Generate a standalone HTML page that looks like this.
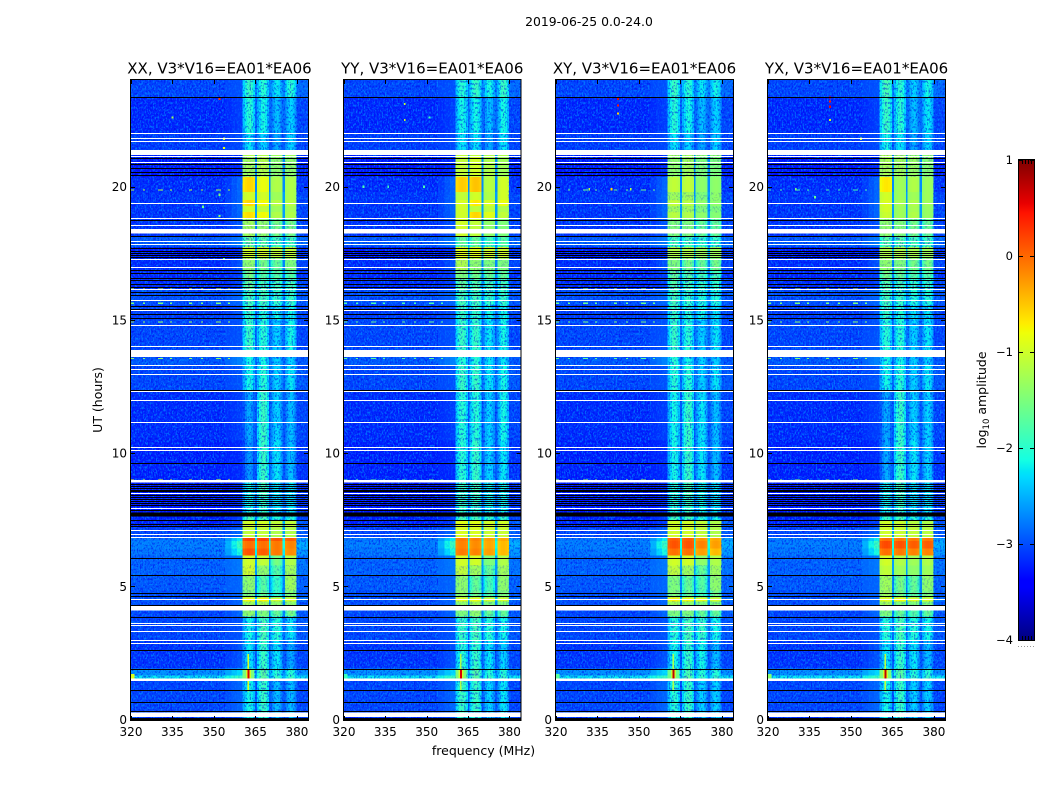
<!DOCTYPE html>
<html lang="en">
<head>
<meta charset="utf-8">
<title>2019-06-25 0.0-24.0</title>
<style>
html,body{margin:0;padding:0;background:#fff;}
svg{display:block;}
text{font-family:"DejaVu Sans","Liberation Sans",sans-serif;fill:#000;}
</style>
</head>
<body>
<svg id="fig" xmlns="http://www.w3.org/2000/svg" width="1050" height="800" viewBox="0 0 1050 800">
  <defs>
    <filter id="speck-light" x="0" y="0" width="100%" height="100%" color-interpolation-filters="sRGB">
      <feTurbulence type="fractalNoise" baseFrequency="0.62 0.42" numOctaves="2" seed="4"/>
      <feColorMatrix type="matrix" values="0 0 0 0 0  0 0 0 0 0.6  0 0 0 0 1  5 0 0 0 -2.35"/>
    </filter>
    <filter id="speck-dark" x="0" y="0" width="100%" height="100%" color-interpolation-filters="sRGB">
      <feTurbulence type="fractalNoise" baseFrequency="0.62 0.42" numOctaves="2" seed="11"/>
      <feColorMatrix type="matrix" values="0 0 0 0 0  0 0 0 0 0  0 0 0 0 0.92  5 0 0 0 -2.5"/>
    </filter>
    <linearGradient id="cbar-gradient" x1="0" y1="1" x2="0" y2="0"></linearGradient>
  </defs>
  <text x="589" y="26" font-size="12.4" text-anchor="middle">2019-06-25 0.0-24.0</text>
  <text x="483.5" y="755" font-size="12.5" text-anchor="middle">frequency (MHz)</text>
  <text transform="translate(102,400) rotate(-90)" font-size="12.5" text-anchor="middle">UT (hours)</text>
  <text transform="translate(986,400) rotate(-90)" font-size="12.5" text-anchor="middle">log<tspan font-size="8.5" dy="3">10</tspan><tspan dy="-3"> amplitude</tspan></text>
  <g id="panels"></g>
  <g id="colorbar"></g>
</svg>
<script>
// ---- axis labels ----
const panelTitles = ["XX, V3*V16=EA01*EA06","YY, V3*V16=EA01*EA06","XY, V3*V16=EA01*EA06","YX, V3*V16=EA01*EA06"];
const freqTicks = [320,335,350,365,380];
const utTicks = [0,5,10,15,20];
const colorbarTicks = [1,0,-1,-2,-3,-4];

// ---- time bands (UT hours, descending) ----
const utEdges = [24,23.36,22.01,21.37,21.11,20.36,19.79,19.49,19.27,19.04,18.82,18.14,17.73,17.31,16.86,16.56,16.11,15.55,14.99,13.86,13.60,13.30,12.36,10.48,8.98,8.41,7.77,7.47,7.21,6.84,6.69,6.42,6.16,5.78,5.41,4.85,4.58,4.43,4.09,3.87,2.97,1.92,1.65,1.46,0.26,0];
// sub-band edges (MHz): A, gap, B, gap, C, gap, D
const subbandEdges = [360.4,364.9,365.5,369.9,370.5,374.8,375.6,379.8];
// relative bandpass across one sub-band, in log10 amplitude
const bandpass = [-0.3,-0.08,0.06,0.1,0.0,-0.22];
// shoulder sections below the first sub-band (MHz) and their blend from background to shoulder amplitude
const shoulderEdges = [354,356.4,358.4,360.4];
const shoulderBlend = [0.3,0.7,1.0];

// ---- log10 amplitude per band, shared sections ----
const bgAmp = [-3.05,-3.22,-3.1,-3.25,-3.3,-3.2,-3.15,-3.15,-3.15,-3.15,-3.15,-2.95,-3.3,-3.2,-3.22,-3.2,-3.0,-3.1,-3.05,-3.05,-2.95,-3.05,-3.2,-3.25,-3.3,-3.3,-3.25,-3.25,-3.05,-2.8,-2.75,-2.8,-2.9,-2.9,-2.95,-3.0,-3.0,-3.0,-3.05,-3.05,-3.15,-2.65,-2.2,-3.05,-3.15];
const shoulderAmp = [-3.0,-3.1,-3.05,-3.2,-3.2,-2.9,-2.9,-2.9,-2.9,-2.9,-3.0,-2.8,-3.2,-3.0,-3.1,-3.1,-2.9,-3.0,-3.0,-3.0,-2.75,-3.0,-3.1,-3.2,-3.2,-3.2,-3.1,-3.1,-2.9,-2.2,-1.9,-2.1,-2.8,-2.8,-2.9,-2.9,-2.9,-2.9,-2.9,-3.0,-3.0,-2.3,-1.9,-2.9,-3.0];
const gapAmp = [-2.7,-2.8,-2.9,-2.7,-2.7,-2.7,-2.6,-2.6,-2.6,-2.6,-2.7,-2.6,-2.5,-2.7,-2.7,-2.7,-2.7,-2.8,-2.8,-2.8,-2.8,-2.8,-2.9,-2.9,-2.8,-2.8,-2.7,-2.5,-2.6,-2.2,-2.1,-2.2,-2.6,-2.6,-2.7,-2.7,-2.4,-2.7,-2.7,-2.8,-2.9,-2.6,-2.5,-2.9,-2.9];
const rightAmp = [-2.85,-3.05,-3.05,-3.15,-3.25,-3.15,-3.05,-3.05,-3.05,-3.05,-3.05,-2.85,-3.15,-3.05,-3.15,-3.05,-2.95,-3.05,-3.05,-3.05,-2.95,-2.95,-3.05,-3.15,-3.15,-3.15,-3.05,-2.95,-2.95,-2.6,-2.5,-2.6,-2.8,-2.8,-2.9,-2.95,-2.85,-2.95,-2.95,-2.95,-3.05,-2.65,-2.2,-3.05,-3.05];

// ---- log10 amplitude per band for the four sub-bands A,B,C,D ----
const ampXX = [[-2.0,-2.1,-2.3,-2.1],[-2.1,-2.2,-2.5,-2.4],[-2.3,-2.4,-2.6,-2.4],[-1.2,-1.2,-1.3,-1.3],[-1.3,-1.2,-1.4,-1.4],[-0.6,-0.85,-1.2,-1.2],[-1.0,-1.0,-1.3,-1.2],[-0.6,-0.8,-1.15,-1.15],[-1.0,-1.1,-1.3,-1.25],[-0.65,-0.8,-1.2,-1.2],[-1.3,-1.4,-1.6,-1.6],[-1.7,-1.8,-1.9,-1.9],[-1.0,-1.0,-1.1,-1.1],[-1.4,-1.6,-1.7,-1.5],[-1.6,-1.8,-1.8,-1.8],[-1.7,-1.9,-1.9,-1.9],[-1.9,-1.9,-2.0,-2.0],[-2.0,-2.1,-2.2,-2.2],[-2.0,-2.1,-2.4,-2.2],[-2.2,-2.2,-2.4,-2.4],[-2.2,-2.2,-2.4,-2.4],[-2.2,-2.1,-2.4,-2.3],[-2.6,-2.0,-2.4,-2.5],[-2.7,-2.0,-2.3,-2.5],[-2.2,-1.9,-2.3,-2.3],[-2.2,-2.0,-2.3,-2.3],[-1.9,-1.9,-2.1,-2.1],[-1.0,-1.0,-1.1,-1.1],[-1.1,-1.1,-1.2,-1.2],[0.2,0.2,0.1,0.05],[-0.05,-0.05,-0.1,-0.15],[0.1,0.05,-0.1,-0.2],[-1.0,-1.1,-1.6,-1.2],[-1.0,-1.4,-1.8,-1.3],[-1.4,-1.8,-2.0,-1.3],[-1.5,-1.7,-2.0,-1.5],[-0.8,-0.75,-1.0,-1.0],[-1.3,-1.3,-1.4,-1.4],[-1.4,-1.5,-1.7,-1.6],[-2.2,-1.9,-2.1,-2.3],[-2.3,-2.0,-2.3,-2.6],[-1.8,-1.8,-2.1,-2.1],[-1.7,-1.8,-2.0,-2.0],[-2.2,-2.0,-2.5,-2.5],[-2.2,-2.0,-2.5,-2.5]];
const ampYY = [[-2.1,-2.0,-2.2,-2.0],[-2.2,-2.2,-2.5,-2.2],[-2.3,-2.3,-2.6,-2.3],[-1.1,-1.1,-1.2,-1.2],[-1.1,-1.0,-1.2,-1.3],[-0.55,-0.5,-1.15,-1.0],[-1.1,-1.0,-1.2,-1.0],[-0.95,-0.7,-0.95,-0.85],[-1.0,-1.1,-1.1,-1.2],[-1.0,-0.6,-0.9,-1.1],[-1.0,-1.1,-1.4,-1.5],[-1.7,-1.7,-1.9,-1.8],[-0.9,-0.9,-1.0,-1.0],[-1.2,-1.4,-1.5,-1.5],[-1.5,-1.6,-1.7,-1.7],[-1.7,-1.8,-1.9,-1.9],[-1.9,-1.9,-2.0,-2.0],[-2.0,-2.0,-2.2,-2.2],[-2.0,-2.0,-2.3,-2.2],[-2.1,-2.1,-2.3,-2.3],[-2.1,-2.1,-2.3,-2.3],[-2.0,-2.0,-2.3,-2.2],[-2.1,-2.1,-2.4,-2.2],[-2.1,-2.0,-2.4,-2.3],[-2.0,-1.9,-2.2,-2.2],[-2.0,-2.0,-2.2,-2.2],[-1.9,-1.9,-2.0,-2.0],[-0.9,-0.9,-1.0,-1.0],[-0.95,-0.95,-1.05,-1.05],[-0.1,-0.15,-0.3,-0.35],[-0.15,-0.2,-0.35,-0.45],[-0.1,-0.15,-0.3,-0.45],[-1.0,-1.0,-1.5,-1.2],[-1.1,-1.3,-1.7,-1.3],[-1.4,-1.7,-1.9,-1.4],[-1.4,-1.6,-1.8,-1.5],[-0.9,-0.85,-1.0,-1.0],[-1.4,-1.3,-1.5,-1.5],[-1.5,-1.4,-1.7,-1.7],[-2.0,-1.9,-2.1,-2.2],[-2.1,-2.0,-2.3,-2.4],[-1.8,-1.8,-2.1,-2.1],[-1.7,-1.8,-2.0,-2.0],[-2.0,-2.0,-2.4,-2.3],[-2.0,-2.0,-2.4,-2.3]];
const ampXY = [[-2.0,-2.1,-2.3,-2.2],[-2.1,-2.2,-2.5,-2.4],[-2.3,-2.4,-2.6,-2.4],[-1.3,-1.3,-1.4,-1.4],[-1.4,-1.3,-1.5,-1.5],[-1.1,-1.1,-1.4,-1.4],[-1.3,-1.3,-1.5,-1.4],[-1.1,-1.15,-1.4,-1.4],[-1.3,-1.3,-1.5,-1.5],[-1.15,-1.2,-1.4,-1.45],[-1.5,-1.5,-1.7,-1.7],[-1.9,-1.9,-2.0,-2.0],[-1.2,-1.2,-1.3,-1.3],[-1.5,-1.6,-1.7,-1.6],[-1.7,-1.8,-1.9,-1.9],[-1.8,-1.9,-2.0,-2.0],[-1.9,-2.0,-2.1,-2.1],[-2.0,-2.1,-2.2,-2.3],[-2.0,-2.1,-2.4,-2.3],[-2.1,-2.2,-2.4,-2.4],[-2.1,-2.2,-2.4,-2.4],[-2.1,-2.1,-2.4,-2.3],[-2.2,-2.0,-2.3,-2.5],[-2.2,-2.0,-2.3,-2.5],[-2.1,-1.9,-2.2,-2.3],[-2.1,-2.0,-2.2,-2.3],[-1.9,-1.9,-2.1,-2.2],[-1.0,-1.0,-1.1,-1.2],[-1.0,-1.0,-1.1,-1.2],[0.05,0.05,-0.25,-0.35],[0.1,0.1,-0.15,-0.3],[-0.05,-0.05,-0.3,-0.45],[-1.0,-1.0,-1.4,-1.2],[-1.1,-1.3,-1.7,-1.3],[-1.5,-1.7,-1.8,-1.4],[-1.5,-1.7,-1.9,-1.6],[-0.75,-0.8,-0.9,-1.0],[-1.3,-1.4,-1.5,-1.5],[-1.5,-1.5,-1.7,-1.7],[-2.1,-1.9,-2.0,-2.2],[-2.2,-2.0,-2.2,-2.5],[-1.8,-1.9,-2.1,-2.1],[-1.7,-1.8,-2.0,-2.0],[-2.1,-2.0,-2.4,-2.4],[-2.1,-2.0,-2.4,-2.4]];
const ampYX = [[-1.9,-2.1,-2.4,-2.2],[-2.0,-2.1,-2.5,-2.3],[-2.2,-2.3,-2.6,-2.4],[-1.2,-1.3,-1.4,-1.4],[-1.25,-1.3,-1.35,-1.45],[-0.7,-1.3,-1.2,-1.3],[-1.0,-1.3,-1.3,-1.3],[-0.95,-1.25,-1.2,-1.3],[-1.0,-1.3,-1.25,-1.35],[-1.05,-1.3,-1.2,-1.35],[-1.4,-1.5,-1.6,-1.7],[-1.8,-1.8,-1.9,-1.9],[-1.2,-1.2,-1.25,-1.3],[-1.4,-1.5,-1.6,-1.6],[-1.6,-1.7,-1.8,-1.8],[-1.8,-1.9,-2.0,-2.0],[-1.9,-2.0,-2.1,-2.1],[-2.0,-2.1,-2.3,-2.3],[-2.1,-2.1,-2.4,-2.3],[-2.2,-2.2,-2.4,-2.4],[-2.2,-2.2,-2.4,-2.4],[-2.2,-2.1,-2.4,-2.3],[-2.6,-2.0,-2.4,-2.4],[-2.6,-2.0,-2.3,-2.4],[-2.2,-1.9,-2.3,-2.3],[-2.2,-2.0,-2.3,-2.3],[-2.0,-1.9,-2.1,-2.1],[-1.0,-1.05,-1.15,-1.2],[-1.0,-1.05,-1.1,-1.15],[-0.05,-0.1,-0.1,-0.1],[0.15,0.1,0.05,0.05],[-0.05,-0.1,-0.15,-0.15],[-1.0,-1.2,-1.3,-1.2],[-1.1,-1.3,-1.4,-1.3],[-1.3,-1.6,-1.7,-1.4],[-1.3,-1.6,-1.7,-1.5],[-0.9,-0.8,-0.95,-1.0],[-1.3,-1.5,-1.5,-1.5],[-1.5,-1.7,-1.8,-1.7],[-2.1,-1.9,-2.1,-2.2],[-2.3,-2.0,-2.3,-2.5],[-1.8,-1.8,-2.1,-2.1],[-1.7,-1.8,-2.0,-2.0],[-2.2,-2.0,-2.4,-2.4],[-2.2,-2.0,-2.4,-2.4]];

// ---- flagged integrations, UT hours ----
const whiteLinesUT = [22.00,21.84,21.71,21.15,20.94,19.37,18.81,18.57,17.97,17.86,17.30,17.00,16.17,15.74,15.36,14.79,14.02,13.30,13.16,12.96,12.32,11.98,11.15,10.22,10.10,8.51,7.94,7.13,6.97,6.85,4.52,3.63,3.53,3.34,2.99,2.88];
const whiteBlockStart = [21.37,18.40,13.86,8.98,4.26,1.53,0.27];
const whiteBlockStop = [21.18,18.23,13.61,8.90,4.09,1.45,0.09];
const blackLinesUT = [23.36,21.09,20.83,20.68,20.56,20.43,18.74,18.14,17.68,17.60,17.52,17.45,17.37,16.86,16.74,16.56,16.51,16.36,16.23,16.05,15.92,15.51,15.40,15.21,15.05,12.36,9.62,8.85,8.77,8.69,8.62,8.56,8.41,8.34,8.26,8.19,8.11,8.04,7.85,7.47,7.32,7.25,6.07,5.43,4.75,4.62,4.28,3.85,2.62,1.90,1.11,0.66,0.31];
const blackBlockStart = [7.77,0.05];
const blackBlockStop = [7.62,-0.05];

// ---- narrow-band interference streaks: UT, freq range, amplitude per panel (null = absent) ----
const streakUT = [19.87,16.15,15.62,14.92,13.55,8.98];
const streakFrom = [320,320,320,320,320,320];
const streakTo = [356,360,360,356,360,360];
const streakAmpXX = [-1.2,-1.0,-1.5,-1.3,-1.4,-0.8];
const streakAmpYY = [null,null,-1.8,-1.6,-1.7,-1.6];
const streakAmpXY = [-1.6,-1.4,-1.6,-1.5,-1.7,-1.2];
const streakAmpYX = [-1.8,-1.2,-1.5,-1.4,-1.5,-1.3];

// ---- isolated bright samples: freq, UT, amplitude per panel ----
const speckFreqXX = [335,352,353.6,353.6,352,346,353.6,352];
const speckUTXX = [22.6,23.3,21.8,21.45,18.9,19.25,17.3,19.7];
const speckAmpXX = [-1.3,0.3,-1.0,-0.8,-1.4,-1.6,-1.8,-1.5];
const speckFreqYY = [342,342,351,327,349,336];
const speckUTYY = [23.1,22.5,22.6,20.0,20.0,20.0];
const speckAmpYY = [-1.0,-1.0,-1.9,-1.8,-1.8,-1.9];
const speckFreqXY = [342.4,342.4,342.4,332,340,347];
const speckUTXY = [23.3,23.05,22.75,19.9,19.9,19.9];
const speckAmpXY = [0.5,0.4,-0.6,-1.2,-0.6,-1.1];
const speckFreqYX = [342.4,342.4,342.4,342.4,353.6,330,337];
const speckUTYX = [23.35,23.2,23.0,22.5,21.8,19.9,19.6];
const speckAmpYX = [0.5,0.4,0.5,-1.0,-1.0,-1.5,-1.6];

// ---- strong RFI at UT 1.7 ----
const spikeFreq = [362.4,362.4,362.4,362.4];
const spikeStart = [2.45,2.45,2.45,2.45];
const spikeStop = [1.05,1.05,1.05,1.05];
const spikeAmp = [-0.9,-1.2,-1.2,-1.1];
const coreAmp = [0.6,0.6,0.7,0.7];
const glowAmp = [-1.5,-1.5,-1.6,-1.5];
const innerGlowAmp = [-1.0,-1.0,-1.1,-1.0];
const edgeAmp = [-0.9,-1.9,-1.7,-1.4];

// ---- geometry ----
const panelLeft = [131,344,556,768];
const panelRight = [308,520.5,733,945];
const plotTop = 80, plotBottom = 720;
const allAmp = [ampXX,ampYY,ampXY,ampYX];
const allStreak = [streakAmpXX,streakAmpYY,streakAmpXY,streakAmpYX];
const allSpeckF = [speckFreqXX,speckFreqYY,speckFreqXY,speckFreqYX];
const allSpeckU = [speckUTXX,speckUTYY,speckUTXY,speckUTYX];
const allSpeckA = [speckAmpXX,speckAmpYY,speckAmpXY,speckAmpYX];

const SVGNS = "http://www.w3.org/2000/svg";
function mk(tag, attrs, parent){
  const el = document.createElementNS(SVGNS, tag);
  for (const k in attrs) el.setAttribute(k, attrs[k]);
  parent.appendChild(el);
  return el;
}
function interp(t, pts){
  for (let i = 1; i < pts.length; i++){
    if (t <= pts[i][0]){
      const a = pts[i-1], b = pts[i];
      return a[1] + (b[1]-a[1]) * (t-a[0]) / (b[0]-a[0]);
    }
  }
  return pts[pts.length-1][1];
}
const JET_R = [[0,0],[0.35,0],[0.66,1],[0.89,1],[1,0.5]];
const JET_G = [[0,0],[0.125,0],[0.375,1],[0.64,1],[0.91,0],[1,0]];
const JET_B = [[0,0.5],[0.11,1],[0.34,1],[0.65,0],[1,0]];
function jet(t){
  t = Math.max(0, Math.min(1, t));
  const c = v => Math.round(255*v);
  return "rgb(" + c(interp(t,JET_R)) + "," + c(interp(t,JET_G)) + "," + c(interp(t,JET_B)) + ")";
}
const ampColor = v => jet((v + 4) / 5);
const yOf = ut => 719.5 - ut * (639.5 / 24);

const root = document.getElementById("panels");
panelTitles.forEach(function(title, p){
  const L = panelLeft[p], R = panelRight[p];
  const xOf = f => L + (f - 320) * (R - L) / 64;
  const g = mk("g", {}, root);
  
  

  const clip = mk("clipPath", {id:"clip-" + p}, g);
  mk("rect", {x:L, y:plotTop, width:R-L, height:plotBottom-plotTop}, clip);
  const plot = mk("g", {"clip-path":"url(#clip-" + p + ")", "shape-rendering":"crispEdges"}, g);
  
  

  function cell(f0, f1, top, bot, value){
    const el = mk("rect", {x:xOf(f0), y:yOf(top), width:xOf(f1)-xOf(f0)+0.4, height:yOf(bot)-yOf(top)+0.4, fill:ampColor(value)}, plot);
    
    
  }

  // heatmap cells
  const amp = allAmp[p];
  for (let b = 0; b < utEdges.length - 1; b++){
    const top = utEdges[b], bot = utEdges[b+1];
    cell(320, shoulderEdges[0], top, bot, bgAmp[b]);
    shoulderBlend.forEach(function(w, s){
      cell(shoulderEdges[s], shoulderEdges[s+1], top, bot, bgAmp[b] + (shoulderAmp[b]-bgAmp[b]) * w);
    });
    for (let c = 0; c < 4; c++){
      const f0 = subbandEdges[c*2], f1 = subbandEdges[c*2+1];
      const weight = amp[b][c] < -1.5 ? 1 : 0.25;
      bandpass.forEach(function(d, i){
        const w = (f1 - f0) / bandpass.length;
        cell(f0 + i*w, f0 + (i+1)*w, top, bot, amp[b][c] + d*weight);
      });
      if (c < 3) cell(f1, subbandEdges[c*2+2], top, bot, gapAmp[b]);
    }
    cell(379.8, 384, top, bot, rightAmp[b]);
  }

  // speckle texture
  const tex = mk("g", {"shape-rendering":"auto"}, plot);
  
  
  const H = plotBottom - plotTop;
  mk("rect", {x:L, y:plotTop, width:xOf(354)-L, height:H, filter:"url(#speck-light)", opacity:0.6}, tex);
  mk("rect", {x:L, y:plotTop, width:xOf(354)-L, height:H, filter:"url(#speck-dark)", opacity:0.5}, tex);
  mk("rect", {x:xOf(354), y:plotTop, width:xOf(360.4)-xOf(354), height:H, filter:"url(#speck-light)", opacity:0.3}, tex);
  mk("rect", {x:xOf(379.8), y:plotTop, width:R-xOf(379.8), height:H, filter:"url(#speck-light)", opacity:0.55}, tex);
  mk("rect", {x:xOf(379.8), y:plotTop, width:R-xOf(379.8), height:H, filter:"url(#speck-dark)", opacity:0.45}, tex);
  for (let b = 0; b < utEdges.length - 1; b++){
    const mean = (amp[b][0] + amp[b][1] + amp[b][2] + amp[b][3]) / 4;
    if (mean > -1.3) continue;
    mk("rect", {x:xOf(360.4), y:yOf(utEdges[b]), width:xOf(379.8)-xOf(360.4), height:yOf(utEdges[b+1])-yOf(utEdges[b]), filter:"url(#speck-dark)", opacity: mean < -1.8 ? 0.5 : 0.22}, tex);
  }

  // interference streaks
  streakUT.forEach(function(ut, i){
    const a = allStreak[p][i];
    if (a === null) return;
    const s = mk("line", {x1:xOf(streakFrom[i]), x2:xOf(streakTo[i]), y1:yOf(ut), y2:yOf(ut), stroke:ampColor(a), "stroke-width":1.3, "stroke-dasharray":"3 9 2 13 5 7 2 17"}, plot);
    
    
  });

  // isolated samples
  allSpeckF[p].forEach(function(f, i){
    const s = mk("rect", {x:xOf(f)-0.8, y:yOf(allSpeckU[p][i])-1, width:1.8, height:2.2, fill:ampColor(allSpeckA[p][i])}, plot);
    
    
  });

  // left-edge hot spot, RFI glow, spike, core
  const spikeUTc = (spikeStart[p] + spikeStop[p]) / 2;
  const edge = mk("rect", {x:L, y:yOf(1.7), width:xOf(321.2)-L, height:yOf(1.46)-yOf(1.7), fill:ampColor(edgeAmp[p])}, plot);
  
  
  const glow = mk("rect", {x:xOf(spikeFreq[p]-2.0), y:yOf(1.9), width:xOf(spikeFreq[p]+2.0)-xOf(spikeFreq[p]-2.0), height:yOf(1.5)-yOf(1.9), fill:ampColor(glowAmp[p])}, plot);
  
  
  const inner = mk("rect", {x:xOf(spikeFreq[p]-0.9), y:yOf(1.85), width:xOf(spikeFreq[p]+0.9)-xOf(spikeFreq[p]-0.9), height:yOf(1.55)-yOf(1.85), fill:ampColor(innerGlowAmp[p])}, plot);
  
  
  const spike = mk("rect", {x:xOf(spikeFreq[p])-0.7, y:yOf(spikeStart[p]), width:1.5, height:yOf(spikeStop[p])-yOf(spikeStart[p]), fill:ampColor(spikeAmp[p])}, plot);
  
  
  const core = mk("rect", {x:xOf(spikeFreq[p])-0.8, y:yOf(spikeUTc+0.1), width:1.8, height:yOf(spikeUTc-0.25)-yOf(spikeUTc+0.1), fill:ampColor(coreAmp[p])}, plot);
  
  

  // flagged data
  whiteLinesUT.forEach(function(ut){
    const s = mk("rect", {x:L, y:Math.round(yOf(ut)), width:R-L, height:1, fill:"#fff"}, plot);
    
    
  });
  whiteBlockStart.forEach(function(ut, i){
    const s = mk("rect", {x:L, y:yOf(ut), width:R-L, height:yOf(whiteBlockStop[i])-yOf(ut), fill:"#fff"}, plot);
    
    
  });
  blackLinesUT.forEach(function(ut){
    const s = mk("rect", {x:L, y:Math.round(yOf(ut)), width:R-L, height:1, fill:"#000"}, plot);
    
    
  });
  blackBlockStart.forEach(function(ut, i){
    const s = mk("rect", {x:L, y:yOf(ut), width:R-L, height:yOf(blackBlockStop[i])-yOf(ut), fill:"#000"}, plot);
    
    
  });

  // frame
  const frame = mk("rect", {x:L-0.5, y:plotTop-0.5, width:R-L+1, height:plotBottom-plotTop+1, fill:"none", stroke:"#000", "stroke-width":1}, g);
  
  

  // ticks
  freqTicks.forEach(function(f){
    const x = Math.round(xOf(f)) + 0.5;
    const a = mk("line", {x1:x, x2:x, y1:plotBottom, y2:plotBottom-4, stroke:"#000", "stroke-width":1}, g);
    
    
    const b = mk("line", {x1:x, x2:x, y1:plotTop, y2:plotTop+4, stroke:"#000", "stroke-width":1}, g);
    
    
    const t = mk("text", {x:xOf(f), y:736, "font-size":12, "text-anchor":"middle"}, g);
    t.textContent = String(f);
    
    
  });
  utTicks.forEach(function(u){
    const y = Math.round(yOf(u)) + 0.5;
    const a = mk("line", {x1:L, x2:L+4, y1:y, y2:y, stroke:"#000", "stroke-width":1}, g);
    
    
    const b = mk("line", {x1:R, x2:R-4, y1:y, y2:y, stroke:"#000", "stroke-width":1}, g);
    
    
    const t = mk("text", {x:L-4, y:yOf(u)+4.5, "font-size":12, "text-anchor":"end"}, g);
    t.textContent = String(u);
    
    
  });

  const tt = mk("text", {x:(L+R)/2, y:73.5, "font-size":15, "text-anchor":"middle"}, g);
  tt.textContent = title;
  
  
});

// ---- colorbar ----
const cb = document.getElementById("colorbar");
const grad = document.getElementById("cbar-gradient");
[0,0.11,0.125,0.34,0.35,0.375,0.64,0.65,0.66,0.89,0.91,1].forEach(function(t){
  mk("stop", {offset:t, "stop-color":jet(t)}, grad);
});
const cbL = 1019, cbR = 1034, cbT = 160, cbB = 640;
const cbY = v => cbB - (v + 4) * (cbB - cbT) / 5;
const fill = mk("rect", {x:cbL, y:cbT, width:cbR-cbL, height:cbB-cbT, fill:"url(#cbar-gradient)"}, cb);


const cbFrame = mk("rect", {x:cbL-0.5, y:cbT-0.5, width:cbR-cbL+1, height:cbB-cbT+1, fill:"none", stroke:"#000", "stroke-width":1}, cb);


colorbarTicks.forEach(function(v){
  const y = cbY(v);
  const a = mk("line", {x1:cbL, x2:cbL+4, y1:y+0.5, y2:y+0.5, stroke:"#000", "stroke-width":1}, cb);
  
  
  const b = mk("line", {x1:cbR, x2:cbR-4, y1:y+0.5, y2:y+0.5, stroke:"#000", "stroke-width":1}, cb);
  
  
  const t = mk("text", {x:1013, y:y+4, "font-size":11.5, "text-anchor":"end"}, cb);
  t.textContent = (v < 0 ? "\u2212" : "") + Math.abs(v);
  
  
});
[1022,1025,1028,1031].forEach(function(x){
  const a = mk("line", {x1:x+0.5, x2:x+0.5, y1:cbT, y2:cbT+4, stroke:"#000", "stroke-width":1}, cb);
  
  
  const b = mk("line", {x1:x+0.5, x2:x+0.5, y1:cbB, y2:cbB-4, stroke:"#000", "stroke-width":1}, cb);
  
  
});
const dots = mk("line", {x1:1018, x2:1035, y1:646.5, y2:646.5, stroke:"#999", "stroke-width":1, "stroke-dasharray":"1 2"}, cb);


</script>
</body>
</html>
